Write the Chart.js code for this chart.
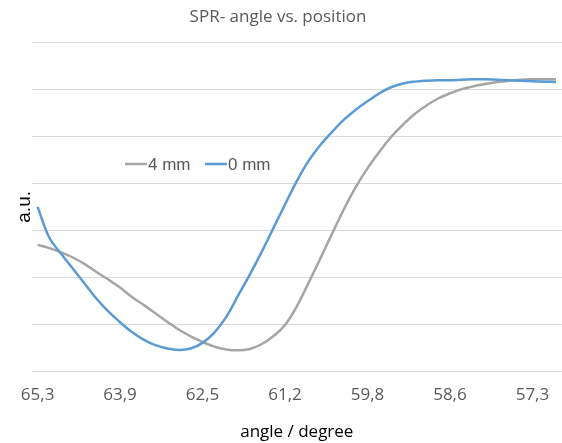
<!DOCTYPE html>
<html>
<head>
<meta charset="utf-8">
<title>SPR- angle vs. position</title>
<script src="https://cdn.jsdelivr.net/npm/chart.js@4.4.0/dist/chart.umd.min.js"></script>
<style>
  html, body { margin: 0; padding: 0; background: #fff; overflow: hidden; }
  #wrap { position: relative; width: 570px; height: 443px; }
</style>
</head>
<body>
<div id="wrap"><canvas id="chart"></canvas></div>
<script>
const angles = ['65,3','65,1','64,9','64,7','64,5','64,3','64,1','63,9','63,7','63,5',
  '63,3','63,1','62,9','62,7','62,5','62,3','62,1','61,9','61,8','61,6',
  '61,4','61,2','61,0','60,8','60,6','60,4','60,2','60,0','59,8','59,6',
  '59,5','59,3','59,1','58,9','58,8','58,6','58,4','58,2','58,0','57,9',
  '57,7','57,5','57,3','57,1','56,9'];
const labelEvery = 7;

const seriesNames = ['4 mm', '0 mm'];
const seriesColors = ['#A5A5A5', '#5B9BD5'];

// a.u. (gridline spacing = 1)
const mm4 = [2.69,2.62,2.53,2.42,2.28,2.11,1.95,1.78,1.58,1.41,
  1.23,1.05,0.88,0.74,0.62,0.52,0.46,0.44,0.47,0.57,
  0.74,0.98,1.38,1.88,2.40,2.93,3.45,3.92,4.32,4.67,
  4.99,5.25,5.48,5.66,5.81,5.92,6.01,6.07,6.12,6.16,
  6.19,6.21,6.22,6.22,6.22];
const mm0 = [3.50,2.84,2.50,2.18,1.86,1.54,1.27,1.04,0.83,0.67,
  0.55,0.48,0.45,0.48,0.60,0.82,1.15,1.60,2.05,2.53,
  3.04,3.55,4.05,4.48,4.82,5.10,5.36,5.57,5.75,5.92,
  6.05,6.13,6.17,6.19,6.20,6.20,6.21,6.22,6.22,6.21,
  6.20,6.19,6.18,6.17,6.16];

const textColor = '#595959';
const gridColor = '#D9D9D9';

// title and the legend sitting inside the plot, drawn like Excel does
const decorations = {
  id: 'decorations',
  afterDraw(chart) {
    const ctx = chart.ctx;
    ctx.save();
    ctx.fillStyle = textColor;
    ctx.font = '17px "Open Sans"';
    ctx.textAlign = 'center';
    ctx.textBaseline = 'middle';
    ctx.fillText('SPR- angle vs. position', 278, 17);

    ctx.font = '17px "Liberation Sans"';
    ctx.textAlign = 'left';
    let x = 125;
    const y = 164;
    chart.data.datasets.slice().sort((a, b) => b.order - a.order).forEach(ds => {
      ctx.strokeStyle = ds.borderColor;
      ctx.lineWidth = 2.5;
      ctx.beginPath();
      ctx.moveTo(x, y);
      ctx.lineTo(x + 22, y);
      ctx.stroke();
      ctx.fillStyle = textColor;
      ctx.fillText(ds.label, x + 23, y + 1);
      x += 80;
    });
    ctx.restore();
  }
};

new Chart(document.getElementById('chart'), {
  type: 'line',
  data: {
    labels: angles,
    datasets: [
      { label: seriesNames[0], data: mm4, borderColor: seriesColors[0], order: 2 },
      { label: seriesNames[1], data: mm0, borderColor: seriesColors[1], order: 1 }
    ]
  },
  options: {
    responsive: true,
    maintainAspectRatio: false,
    animation: false,
    devicePixelRatio: 1,
    layout: { padding: { top: 42.7, left: 0, right: 0, bottom: 0 } },
    elements: {
      line: { borderWidth: 2.5, tension: 0.4, fill: false },
      point: { radius: 0 }
    },
    plugins: { legend: { display: false }, tooltip: { enabled: false } },
    scales: {
      x: {
        type: 'category',
        offset: true,
        grid: { display: false, drawTicks: false },
        border: { display: false },
        ticks: {
          autoSkip: false,
          maxRotation: 0,
          padding: 14,
          color: textColor,
          font: { family: 'Open Sans', size: 17 },
          callback: (v, i) => (i % labelEvery === 0 ? angles[i] : '')
        },
        title: {
          display: true,
          text: 'angle / degree',
          color: '#000',
          font: { family: 'Open Sans', size: 17 },
          padding: { top: 0, bottom: 1 }
        },
        afterFit(scale) { scale.height = 72; }
      },
      y: {
        min: 0,
        max: 7,
        ticks: { display: false, stepSize: 1 },
        grid: { color: gridColor, lineWidth: 1, drawTicks: false },
        border: { display: false },
        title: {
          display: true,
          text: 'a.u.',
          color: '#000',
          font: { family: 'Liberation Sans', size: 19 },
          padding: { top: 13.6, bottom: 0 }
        },
        afterFit(scale) { scale.width = 31.7; }
      }
    }
  },
  plugins: [decorations]
});
</script>
</body>
</html>
